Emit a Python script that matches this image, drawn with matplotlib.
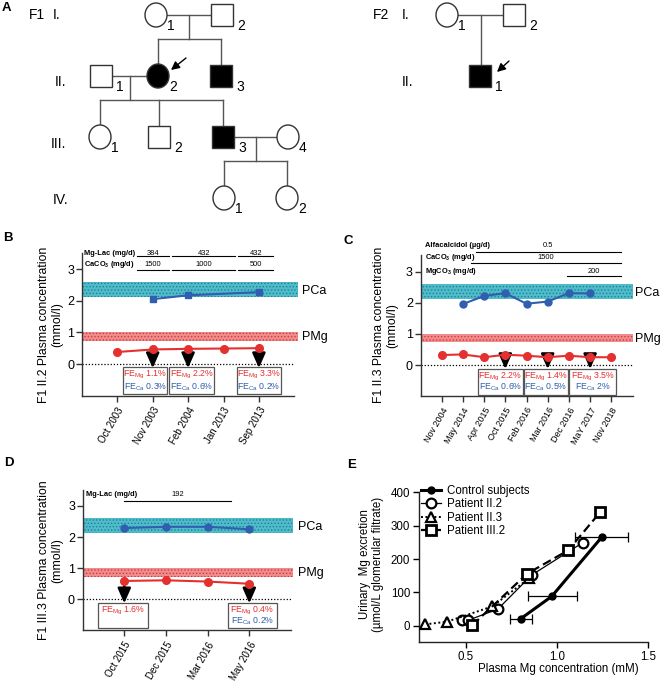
import matplotlib
matplotlib.use('Agg')
import matplotlib.pyplot as plt
from matplotlib.patches import Rectangle, Ellipse

plt.rcParams['font.family'] = ['Liberation Sans', 'DejaVu Sans']
plt.rcParams['mathtext.default'] = 'regular'
plt.rcParams['hatch.linewidth'] = 0.6

# ---------------- data ----------------
# pedigree: name -> (x position, generation, sex, affected)
f1_people = {
    'I1': (156, 'I', 'F', False), 'I2': (222, 'I', 'M', False),
    'II1': (101, 'II', 'M', False), 'II2': (158, 'II', 'F', True), 'II3': (221, 'II', 'M', True),
    'III1': (100, 'III', 'F', False), 'III2': (159, 'III', 'M', False),
    'III3': (223, 'III', 'M', True), 'III4': (288, 'III', 'F', False),
    'IV1': (224, 'IV', 'F', False), 'IV2': (287, 'IV', 'F', False),
}
f1_couples = [('I1', 'I2', ['II2', 'II3']), ('II1', 'II2', ['III1', 'III2', 'III3']),
              ('III3', 'III4', ['IV1', 'IV2'])]
f2_people = {'I1': (447, 'I', 'F', False), 'I2': (514, 'I', 'M', False),
             'II1': (480, 'II', 'M', True)}
f2_couples = [('I1', 'I2', ['II1'])]

# panel B  (F1 II.2)
b_dates = ['Oct 2003', 'Nov 2003', 'Feb 2004', 'Jan 2013', 'Sep 2013']
b_pmg = [0.38, 0.46, 0.48, 0.49, 0.50]
b_pca_idx = [1, 2, 4]
b_pca = [2.05, 2.17, 2.27]
b_fe_idx = [1, 2, 4]
b_fe_mg = ['1.1%', '2.2%', '3.3%']
b_fe_ca = ['0.3%', '0.6%', '0.2%']
b_mglac_periods = [(0.55, 1.45), (1.55, 3.33), (3.42, 4.4)]
b_mglac_doses = ['384', '432', '432']
b_caco3_periods = [(0.55, 1.45), (1.55, 3.33), (3.42, 4.4)]
b_caco3_doses = ['1500', '1000', '500']

# panel C  (F1 II.3)
c_dates = ['Nov 2004', 'May 2014', 'Apr 2015', 'Oct 2015', 'Feb 2016',
           'Mar 2016', 'Dec 2016', 'MaY 2017', 'Nov 2018']
c_pmg = [0.32, 0.34, 0.25, 0.33, 0.30, 0.25, 0.30, 0.25, 0.25]
c_pca_idx = [1, 2, 3, 4, 5, 6, 7]
c_pca = [1.96, 2.22, 2.31, 1.97, 2.04, 2.31, 2.30]
c_fe_idx = [3, 5, 7]
c_fe_mg = ['2.2%', '1.4%', '3.5%']
c_fe_ca = ['0.6%', '0.5%', '2%']
c_alfa_periods = [(1.6, 8.45)]
c_alfa_doses = ['0.5']
c_caco3_periods = [(1.4, 8.45)]
c_caco3_doses = ['1500']
c_mgco3_periods = [(5.9, 8.45)]
c_mgco3_doses = ['200']

# panel D  (F1 III.3)
d_dates = ['Oct 2015', 'Dec 2015', 'Mar 2016', 'May 2016']
d_pmg = [0.59, 0.61, 0.57, 0.50]
d_pca_idx = [0, 1, 2, 3]
d_pca = [2.29, 2.33, 2.33, 2.25]
d_fe_idx = [0, 3]
d_fe_mg = ['1.6%', '0.4%']
d_fe_ca = [None, '0.2%']
d_mglac_periods = [(0.0, 2.55)]
d_mglac_doses = ['192']

# panel E
ctrl_x = [0.80, 0.97, 1.245]
ctrl_y = [21, 88, 266]
ctrl_xerr_lo = [0.06, 0.13, 0.145]
ctrl_xerr_hi = [0.06, 0.14, 0.145]
p22_x = [0.48, 0.51, 0.675, 0.86, 1.14]
p22_y = [16, 16, 50, 152, 249]
p23_x = [0.275, 0.395, 0.645, 0.845]
p23_y = [4, 12, 58, 142]
p32_x = [0.535, 0.835, 1.06, 1.235]
p32_y = [2, 156, 226, 340]

# ---------------- figure ----------------
W, H = 661, 689
fig = plt.figure(figsize=(W / 100, H / 100), dpi=100)


def px_axes(x0, y0, x1, y1):
    return fig.add_axes([x0 / W, 1 - y1 / H, (x1 - x0) / W, (y1 - y0) / H])


def letter(x, y, s):
    fig.text(x / W, 1 - y / H, s, fontsize=9.5, fontweight='bold', ha='left', va='center')


# ---- panel A: pedigrees
axA = px_axes(0, 0, W, 220)
axA.set_xlim(0, W)
axA.set_ylim(220, 0)
axA.axis('off')
rows = {'I': 15, 'II': 76, 'III': 137, 'IV': 198}
lc = '#555555'


def draw_family(people, couples):
    for name, (x, gen, sex, aff) in people.items():
        y = rows[gen]
        fc = 'black' if aff else 'white'
        num = name.lstrip('IV')
        if sex == 'F':
            axA.add_patch(Ellipse((x, y), 22, 24, fc=fc, ec='#333333', lw=1, zorder=3))
            axA.text(x + 11, y + 11, num, fontsize=10, ha='left', va='center')
        else:
            axA.add_patch(Rectangle((x - 11, y - 11), 22, 22, fc=fc, ec='#333333', lw=1, zorder=3))
            axA.text(x + 15, y + 11, num, fontsize=10, ha='left', va='center')
    for a, b, kids in couples:
        xa, ga = people[a][0], people[a][1]
        xb = people[b][0]
        y = rows[ga]
        axA.plot([min(xa, xb) + 11, max(xa, xb) - 11], [y, y], color=lc, lw=1)
        xm = (xa + xb) / 2
        kx = [people[k][0] for k in kids]
        ky = rows[people[kids[0]][1]]
        if len(kids) == 1:
            axA.plot([xm, xm], [y, ky - 11], color=lc, lw=1)
        else:
            ys = y + 24
            axA.plot([xm, xm], [y, ys], color=lc, lw=1)
            axA.plot([min(kx), max(kx)], [ys, ys], color=lc, lw=1)
            for k in kx:
                axA.plot([k, k], [ys, ky - 12], color=lc, lw=1)


draw_family(f1_people, f1_couples)
draw_family(f2_people, f2_couples)
for s, x, y in [('F1', 29, 15), ('I.', 53, 15), ('II.', 55, 82), ('III.', 51, 144),
                ('IV.', 53, 200), ('F2', 373, 15), ('I.', 402, 15), ('II.', 402, 82)]:
    axA.text(x, y, s, fontsize=10, ha='left', va='center')
for (x0, y0), (x1, y1) in [((186, 58), (171, 70)), ((509, 61), (497, 72))]:
    axA.annotate('', xy=(x1, y1), xytext=(x0, y0),
                 arrowprops=dict(arrowstyle='-|>,head_width=0.25,head_length=0.5',
                                 color='black', lw=1, mutation_scale=10,
                                 shrinkA=0, shrinkB=0))

# ---- time-course panels
cyan, cyan_dot = '#4fbccc', '#23808f'
pink, pink_dot = '#f08c8c', '#d03a3c'
blue, red = '#2f5fae', '#e4302f'


def course(ax, box, dates, pmg, pca_idx, pca, ca_marker, fe_idx, fe_mg, fe_ca,
           box_spans, box_y, band_end, lab_x, ylabel, ylabel_px):
    x0, x1 = box
    xmin, xmax = -1, len(dates)
    ax.set_xlim(xmin, xmax)
    for s in ['top', 'right']:
        ax.spines[s].set_visible(False)
    for s in ['left', 'bottom']:
        ax.spines[s].set_color('#333333')
        ax.spines[s].set_linewidth(1)
    ax.fill_between([xmin, band_end], 2.12, 2.6, facecolor=cyan, edgecolor=cyan_dot,
                    hatch='.....', lw=0, clip_on=False, zorder=1)
    ax.fill_between([xmin, band_end], 0.73, 1.0, facecolor=pink, edgecolor=pink_dot,
                    hatch='.....', lw=0, clip_on=False, zorder=1)
    ax.text(lab_x, 2.32, 'PCa', transform=ax.get_yaxis_transform(), fontsize=9,
            ha='left', va='center')
    ax.text(lab_x, 0.85, 'PMg', transform=ax.get_yaxis_transform(), fontsize=9,
            ha='left', va='center')
    ax.plot([xmin, xmax], [0, 0], color='black', lw=0.9, ls=(0, (1, 1.5)), zorder=2)
    pos = list(range(len(dates)))
    ax.plot(pca_idx, pca, color=blue, marker=ca_marker, ms=5, lw=1.5, zorder=4)
    ax.plot(pos, pmg, color=red, marker='o', ms=5.5, lw=1.5, zorder=5)
    for i in fe_idx:
        ax.annotate('', xy=(i, -0.13), xytext=(i, pmg[i]),
                    arrowprops=dict(arrowstyle='-|>,head_width=0.33,head_length=0.75',
                                    color='black', lw=1.8, mutation_scale=12,
                                    shrinkA=0, shrinkB=0), zorder=3)
    ylo, yhi = box_y
    for (a, b), mg, ca in zip(box_spans, fe_mg, fe_ca):
        ax.add_patch(Rectangle((a, ylo), b - a, yhi - ylo, fc='white', ec='#555555',
                               lw=0.9, zorder=6, clip_on=False))
        ax.text((a + b) / 2, yhi - 0.24, 'FE$_{Mg}$ ' + mg, color=red, fontsize=6.3,
                ha='center', va='center', zorder=7)
        if ca:
            ax.text((a + b) / 2, ylo + 0.23, 'FE$_{Ca}$ ' + ca, color=blue, fontsize=6.3,
                    ha='center', va='center', zorder=7)
    ax.set_yticks([0, 1, 2, 3])
    ax.set_xticks(pos)
    ax.set_xticklabels(dates, rotation=60, ha='right', rotation_mode='anchor', fontsize=7)
    ax.tick_params(axis='y', labelsize=9, length=4, width=1, color='#333333', pad=1.5)
    ax.tick_params(axis='x', length=4, width=1, color='#333333', pad=3)
    ax.set_ylabel(ylabel, fontsize=8.8, linespacing=1.1)
    ax.yaxis.set_label_coords((ylabel_px - x0) / (x1 - x0), 0.5)


def treatment(ax, name, y_text, y_line, x_name, periods, doses):
    ax.text(x_name, y_text, name, fontsize=5.4, fontweight='bold', ha='left', va='center')
    for (a, b), d in zip(periods, doses):
        ax.plot([a, b], [y_line, y_line], color='black', lw=0.8, clip_on=False)
        ax.text((a + b) / 2, y_text, d, fontsize=5.4, ha='center', va='center')


# B
axB = px_axes(81.9, 253.2, 294.3, 395.7)
axB.set_ylim(-1, 3.5)
course(axB, (81.9, 294.3), b_dates, b_pmg, b_pca_idx, b_pca, 's', b_fe_idx, b_fe_mg, b_fe_ca,
       [(0.17, 1.41), (1.47, 2.73), (3.38, 4.62)], (-0.95, -0.1), 5.1, 1.036,
       'F1 II.2 Plasma concentration\n(mmol/l)', 63)
treatment(axB, 'Mg-Lac (mg/d)', 3.49, 3.4, -0.95, b_mglac_periods, b_mglac_doses)
treatment(axB, 'CaCO$_3$ (mg/d)', 3.14, 2.97, -0.95, b_caco3_periods, b_caco3_doses)

# C
axC = px_axes(420.5, 254.6, 632.5, 396.1)
axC.set_ylim(-1, 3.55)
course(axC, (420.5, 632.5), c_dates, c_pmg, c_pca_idx, c_pca, 'o', c_fe_idx, c_fe_mg, c_fe_ca,
       [(1.71, 3.83), (3.88, 5.97), (6.02, 8.22)], (-0.95, -0.14), 9.0, 1.012,
       'F1 II.3 Plasma concentration\n(mmol/l)', 398)
axC.tick_params(axis='x', labelsize=6.5)
treatment(axC, 'Alfacalcidol (µg/d)', 3.83, 3.64, -0.8, c_alfa_periods, c_alfa_doses)
treatment(axC, 'CaCO$_3$ (mg/d)', 3.47, 3.27, -0.8, c_caco3_periods, c_caco3_doses)
treatment(axC, 'MgCO$_3$ (mg/d)', 3.0, 2.86, -0.8, c_mgco3_periods, c_mgco3_doses)

# D
axD = px_axes(82.6, 490.4, 291, 630.4)
axD.set_ylim(-1, 3.5)
course(axD, (82.6, 291), d_dates, d_pmg, d_pca_idx, d_pca, 'o', d_fe_idx, d_fe_mg, d_fe_ca,
       [(-0.63, 0.57), (2.49, 3.66)], (-0.92, -0.12), 4.05, 1.034,
       'F1 III.3 Plasma concentration\n(mmol/l)', 63)
treatment(axD, 'Mg-Lac (mg/d)', 3.36, 3.17, -0.93, d_mglac_periods, d_mglac_doses)

# E
axE = px_axes(418.6, 492.3, 648.4, 642.4)
axE.set_xlim(0.24, 1.5)
axE.set_ylim(-50, 400)
for s in ['top', 'right']:
    axE.spines[s].set_visible(False)
for s in ['left', 'bottom']:
    axE.spines[s].set_color('#222222')
    axE.spines[s].set_linewidth(1)
axE.errorbar(ctrl_x, ctrl_y, xerr=[ctrl_xerr_lo, ctrl_xerr_hi], fmt='none',
             ecolor='black', elinewidth=0.9, capsize=3.5, capthick=0.9, zorder=2)
axE.plot(ctrl_x, ctrl_y, color='black', lw=2.2, marker='o', ms=5, label='Control subjects', zorder=4)
axE.plot(p22_x, p22_y, color='black', lw=0.9, marker='o', ms=7, mfc='white', mew=1.6,
         label='Patient II.2', zorder=4)
axE.plot(p23_x, p23_y, color='black', lw=1.4, ls=(0, (1, 1.3)), marker='^', ms=6.5,
         mfc='white', mew=1.6, label='Patient II.3', zorder=4)
axE.plot(p32_x, p32_y, color='black', lw=1.6, ls=(0, (4, 2)), marker='s', ms=7,
         mfc='white', mew=2, label='Patient III.2', zorder=5)
axE.set_xticks([0.5, 1.0, 1.5])
axE.set_xticklabels(['0.5', '1.0', '1.5'])
axE.set_yticks([0, 100, 200, 300, 400])
axE.tick_params(labelsize=8.3, length=4, width=1, pad=2)
axE.set_xlabel('Plasma Mg concentration (mM)', fontsize=8.3)
axE.xaxis.set_label_coords((558 - 418.6) / 229.8, -0.14)
axE.set_ylabel('Urinary  Mg excretion\n(µmol/L glomerular filtrate)', fontsize=8.3,
               linespacing=1.15)
axE.yaxis.set_label_coords((384 - 418.6) / 229.8, 0.52)
axE.legend(loc='upper left', bbox_to_anchor=(0.01, 1.05), frameon=False, fontsize=8.3,
           handlelength=1.75, handletextpad=0.55, labelspacing=0.12, borderpad=0,
           borderaxespad=0)

letter(2, 8, 'A')
letter(3, 238, 'B')
letter(344, 241, 'C')
letter(4, 463, 'D')
letter(347, 465, 'E')

fig.savefig('out.png', dpi=100)
